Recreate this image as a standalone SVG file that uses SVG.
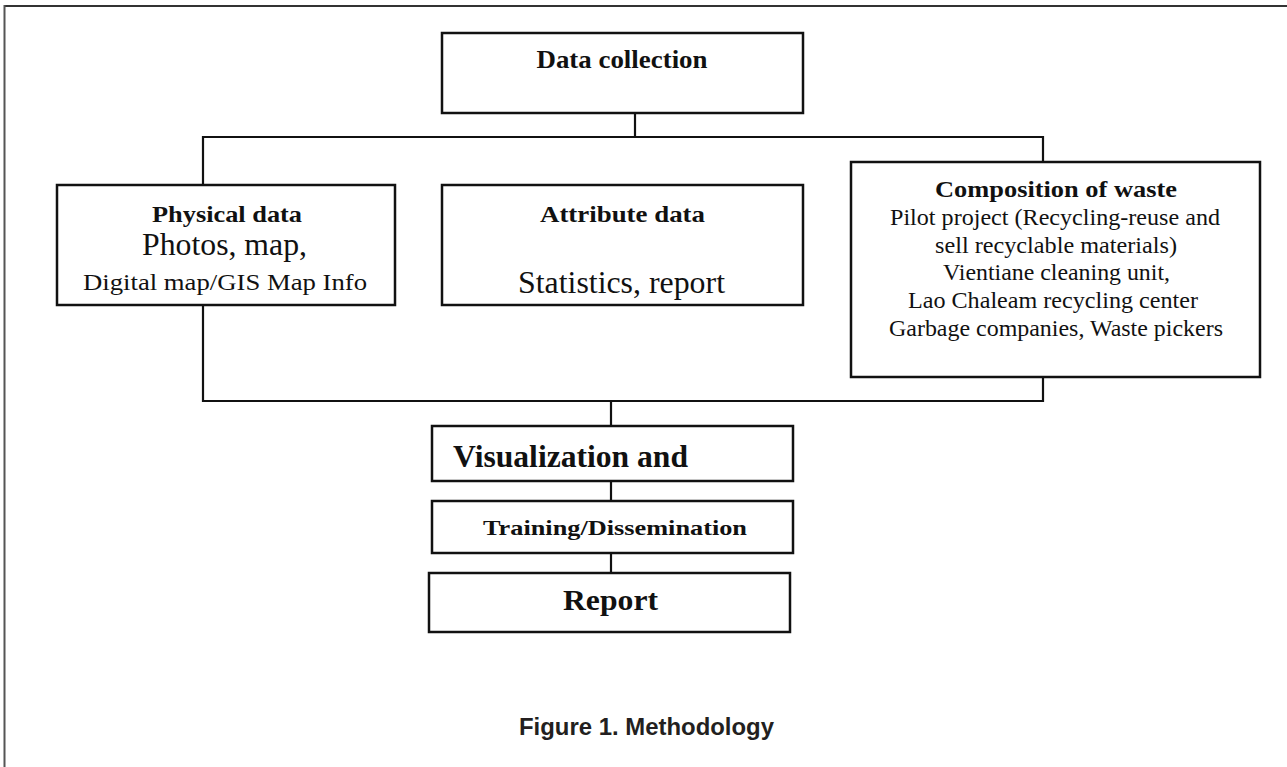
<svg xmlns="http://www.w3.org/2000/svg" width="1287" height="767" viewBox="0 0 1287 767">
<style>
.box{fill:#fff;stroke:#111;stroke-width:2.5}
.ln{fill:none;stroke:#111;stroke-width:2.2}
.t{font-family:"Liberation Serif","Times New Roman",serif;fill:#111}
.b{font-weight:bold}
.cap{font-family:"Liberation Sans",Arial,sans-serif;font-weight:bold;fill:#231f20;font-size:24px}
</style>
<rect x="0" y="0" width="1287" height="767" fill="#fff"/>
<g id="frame">
<line x1="4" y1="6" x2="1287" y2="6" stroke="#333" stroke-width="2"/>
<line x1="4.5" y1="5" x2="4.5" y2="767" stroke="#555" stroke-width="2"/>
</g>
<g id="connectors">
<polyline class="ln" points="635,113 635,137"/>
<polyline class="ln" points="203,185 203,137 1043,137 1043,162"/>
<polyline class="ln" points="203,305 203,401 1043,401 1043,377"/>
<polyline class="ln" points="611,401 611,426"/>
<polyline class="ln" points="611,481 611,501"/>
<polyline class="ln" points="611,553 611,573"/>
</g>
<g id="data-collection">
<rect class="box" x="442" y="33" width="361" height="80"/>
<text class="t b" x="622" y="68" font-size="26" text-anchor="middle" textLength="171" lengthAdjust="spacingAndGlyphs">Data collection</text>
</g>
<g id="physical-data">
<rect class="box" x="57" y="185" width="338" height="120"/>
<text class="t b" x="227" y="222" font-size="23" text-anchor="middle" textLength="150" lengthAdjust="spacingAndGlyphs">Physical data</text>
<text class="t" x="224.5" y="255" font-size="31" text-anchor="middle" textLength="165" lengthAdjust="spacingAndGlyphs">Photos, map,</text>
<text class="t" x="225" y="290" font-size="23" text-anchor="middle" textLength="284" lengthAdjust="spacingAndGlyphs">Digital map/GIS Map Info</text>
</g>
<g id="attribute-data">
<rect class="box" x="442" y="185" width="361" height="120"/>
<text class="t b" x="622.5" y="222" font-size="23" text-anchor="middle" textLength="165" lengthAdjust="spacingAndGlyphs">Attribute data</text>
<text class="t" x="621.5" y="293" font-size="31" text-anchor="middle" textLength="207" lengthAdjust="spacingAndGlyphs">Statistics, report</text>
</g>
<g id="composition-of-waste">
<rect class="box" x="851" y="162" width="409" height="215"/>
<text class="t b" x="1056" y="197" font-size="23" text-anchor="middle" textLength="242" lengthAdjust="spacingAndGlyphs">Composition of waste</text>
<text class="t" x="1055" y="225" font-size="23" text-anchor="middle" textLength="330" lengthAdjust="spacingAndGlyphs">Pilot project (Recycling-reuse and</text>
<text class="t" x="1056" y="253" font-size="23" text-anchor="middle" textLength="242" lengthAdjust="spacingAndGlyphs">sell recyclable materials)</text>
<text class="t" x="1056.5" y="280" font-size="23" text-anchor="middle" textLength="227" lengthAdjust="spacingAndGlyphs">Vientiane cleaning unit,</text>
<text class="t" x="1053" y="308" font-size="23" text-anchor="middle" textLength="290" lengthAdjust="spacingAndGlyphs">Lao Chaleam recycling center</text>
<text class="t" x="1056" y="336" font-size="23" text-anchor="middle" textLength="334" lengthAdjust="spacingAndGlyphs">Garbage companies, Waste pickers</text>
</g>
<g id="visualization">
<rect class="box" x="432" y="426" width="361" height="55"/>
<text class="t b" x="453" y="467" font-size="32" textLength="235" lengthAdjust="spacingAndGlyphs">Visualization and</text>
</g>
<g id="training">
<rect class="box" x="432" y="501" width="361" height="52"/>
<text class="t b" x="483" y="535" font-size="22" textLength="264" lengthAdjust="spacingAndGlyphs">Training/Dissemination</text>
</g>
<g id="report">
<rect class="box" x="429" y="573" width="361" height="59"/>
<text class="t b" x="563" y="610" font-size="30" textLength="95" lengthAdjust="spacingAndGlyphs">Report</text>
</g>
<text class="cap" x="519" y="735" textLength="255" lengthAdjust="spacingAndGlyphs">Figure 1. Methodology</text>
</svg>
